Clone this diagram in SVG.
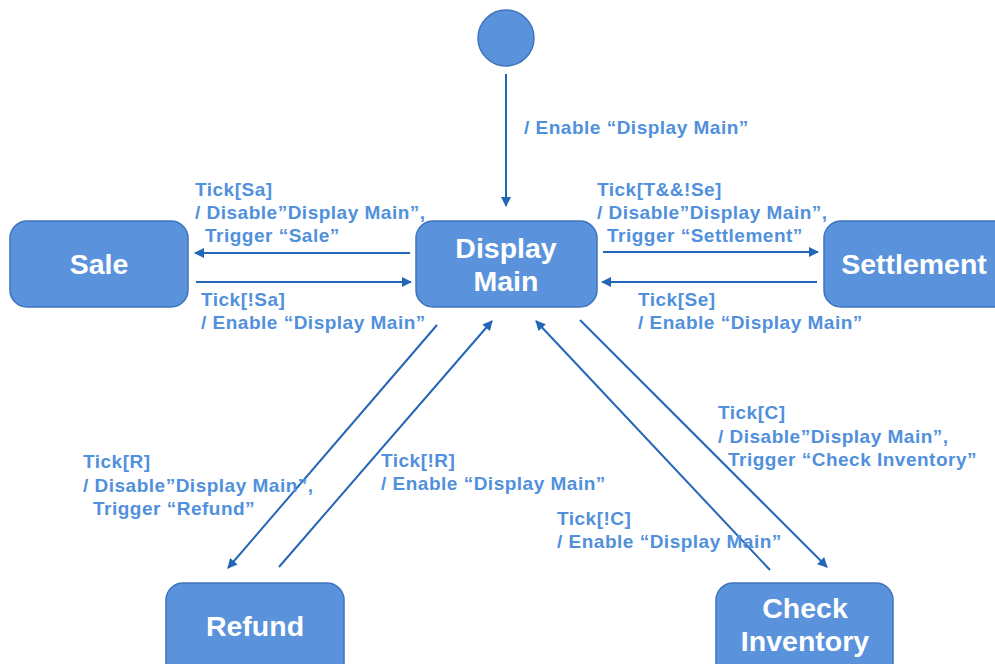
<svg xmlns="http://www.w3.org/2000/svg" width="995" height="664" viewBox="0 0 995 664">
<defs>
<style>
.node{fill:#5a93dc;stroke:#3f74bd;stroke-width:1.5}
.nt{font-family:"Liberation Sans",Arial,sans-serif;font-weight:bold;font-size:28.5px;fill:#fff;text-anchor:middle}
.lbl{font-family:"Liberation Sans",Arial,sans-serif;font-weight:bold;font-size:19px;letter-spacing:0.5px;fill:#5190dc}
.edge{stroke:#2366b8;stroke-width:2;fill:none;marker-end:url(#ah)}
</style>
<marker id="ah" viewBox="0 0 10 10" refX="9" refY="5" markerWidth="12" markerHeight="10" orient="auto" markerUnits="userSpaceOnUse">
<path d="M0,0 L10,5 L0,10 z" fill="#2366b8"/>
</marker>
</defs>
<rect width="995" height="664" fill="#fff"/>
<g id="connectors">
<line class="edge" x1="506" y1="74" x2="506" y2="206"/>
<line class="edge" x1="410" y1="253" x2="195" y2="253"/>
<line class="edge" x1="196" y1="282" x2="411" y2="282"/>
<line class="edge" x1="603" y1="252" x2="818" y2="252"/>
<line class="edge" x1="817" y1="282" x2="602" y2="282"/>
<line class="edge" x1="437" y1="325" x2="228" y2="568"/>
<line class="edge" x1="279" y1="567" x2="492" y2="321"/>
<line class="edge" x1="580" y1="320" x2="827" y2="567"/>
<line class="edge" x1="770" y1="570" x2="536" y2="321"/>
</g>
<g id="initial"><circle class="node" cx="506" cy="38" r="28"/></g>
<g id="display-main"><rect class="node" x="416" y="221" width="181" height="86" rx="17"/><text class="nt" x="506" y="258">Display</text><text class="nt" x="506" y="291">Main</text></g>
<g id="sale"><rect class="node" x="10" y="221" width="178" height="86" rx="17"/><text class="nt" x="99" y="274">Sale</text></g>
<g id="settlement"><rect class="node" x="824" y="221" width="190" height="86" rx="17"/><text class="nt" x="914" y="274">Settlement</text></g>
<g id="refund"><rect class="node" x="166" y="583" width="178" height="100" rx="17"/><text class="nt" x="255" y="636">Refund</text></g>
<g id="check-inventory"><rect class="node" x="716" y="583" width="177" height="100" rx="17"/><text class="nt" x="805" y="618">Check</text><text class="nt" x="805" y="651">Inventory</text></g>
<g id="labels">
<text class="lbl" x="524" y="134">/ Enable “Display Main”</text>
<text class="lbl" x="195" y="196">Tick[Sa]</text>
<text class="lbl" x="195" y="219">/ Disable”Display Main”,</text>
<text class="lbl" x="205" y="242">Trigger “Sale”</text>
<text class="lbl" x="201" y="306">Tick[!Sa]</text>
<text class="lbl" x="201" y="329">/ Enable “Display Main”</text>
<text class="lbl" x="597" y="196">Tick[T&amp;&amp;!Se]</text>
<text class="lbl" x="597" y="219">/ Disable”Display Main”,</text>
<text class="lbl" x="607" y="242">Trigger “Settlement”</text>
<text class="lbl" x="638" y="306">Tick[Se]</text>
<text class="lbl" x="638" y="329">/ Enable “Display Main”</text>
<text class="lbl" x="83" y="468">Tick[R]</text>
<text class="lbl" x="83" y="492">/ Disable”Display Main”,</text>
<text class="lbl" x="93" y="515">Trigger “Refund”</text>
<text class="lbl" x="381" y="467">Tick[!R]</text>
<text class="lbl" x="381" y="490">/ Enable “Display Main”</text>
<text class="lbl" x="718" y="419">Tick[C]</text>
<text class="lbl" x="718" y="443">/ Disable”Display Main”,</text>
<text class="lbl" x="728" y="466">Trigger “Check Inventory”</text>
<text class="lbl" x="557" y="525">Tick[!C]</text>
<text class="lbl" x="557" y="548">/ Enable “Display Main”</text>
</g>
</svg>
